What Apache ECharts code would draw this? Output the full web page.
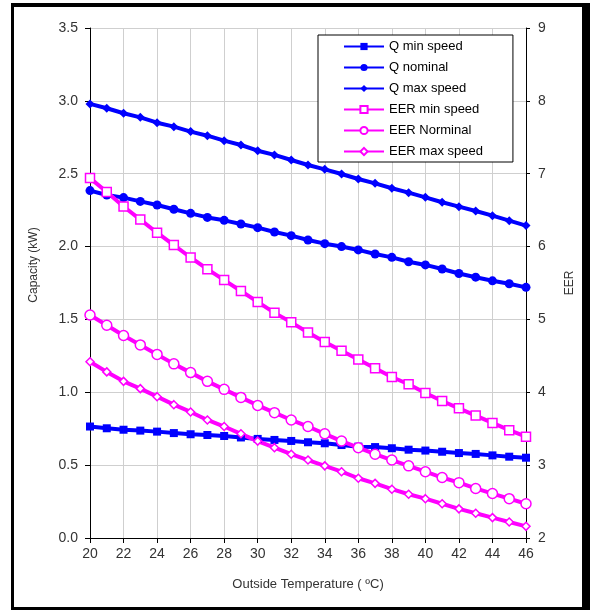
<!DOCTYPE html>
<html>
<head>
<meta charset="utf-8">
<script src="https://cdn.jsdelivr.net/npm/echarts@6/dist/echarts.min.js"></script>
<style>
    body { margin: 0; background: #fff; }
    #wrap { position: relative; width: 590px; height: 610px; }
    #chart { width: 590px; height: 610px; }
    #frame {
        position: absolute; left: 11px; top: 3px; width: 579px; height: 607px;
        box-sizing: border-box; pointer-events: none;
        border-left: 3px solid #000; border-top: 4px solid #000;
        border-right: 8px solid #000; border-bottom: 3px solid #000;
    }
</style>
</head>
<body>
<div id="wrap">
    <div id="chart"></div>
    <div id="frame"></div>
</div>
<script>
// outside temperature (°C)
var temps = [20, 21, 22, 23, 24, 25, 26, 27, 28, 29, 30, 31, 32, 33, 34, 35, 36, 37, 38, 39, 40, 41, 42, 43, 44, 45, 46];

// capacity (kW), left axis
var qMin = [0.765, 0.753, 0.743, 0.737, 0.730, 0.720, 0.712, 0.707, 0.700, 0.690, 0.680, 0.673, 0.666, 0.657, 0.650, 0.638, 0.627, 0.624, 0.616, 0.606, 0.600, 0.592, 0.583, 0.577, 0.567, 0.558, 0.551];
var qNom = [2.384, 2.354, 2.336, 2.310, 2.285, 2.256, 2.228, 2.200, 2.180, 2.155, 2.130, 2.100, 2.075, 2.045, 2.020, 2.000, 1.977, 1.949, 1.926, 1.896, 1.874, 1.846, 1.815, 1.790, 1.765, 1.745, 1.720];
var qMax = [2.979, 2.949, 2.915, 2.887, 2.850, 2.823, 2.789, 2.761, 2.727, 2.697, 2.658, 2.629, 2.594, 2.560, 2.530, 2.498, 2.464, 2.434, 2.400, 2.370, 2.338, 2.304, 2.274, 2.244, 2.212, 2.178, 2.144];

// EER, right axis
var eerMin = [6.94, 6.75, 6.55, 6.37, 6.19, 6.02, 5.85, 5.69, 5.54, 5.39, 5.24, 5.09, 4.96, 4.82, 4.69, 4.57, 4.45, 4.33, 4.21, 4.11, 3.99, 3.88, 3.78, 3.68, 3.58, 3.48, 3.39];
var eerNom = [5.06, 4.92, 4.78, 4.65, 4.52, 4.39, 4.27, 4.15, 4.04, 3.93, 3.82, 3.72, 3.62, 3.53, 3.43, 3.33, 3.24, 3.15, 3.07, 2.99, 2.91, 2.83, 2.76, 2.68, 2.61, 2.54, 2.47];
var eerMax = [4.42, 4.28, 4.15, 4.05, 3.94, 3.83, 3.73, 3.62, 3.53, 3.43, 3.33, 3.24, 3.15, 3.07, 2.99, 2.91, 2.82, 2.75, 2.67, 2.60, 2.54, 2.47, 2.40, 2.34, 2.28, 2.22, 2.16];

var FONT = "'Liberation Sans', Arial, sans-serif";
var BLUE = '#0000ff';
var PINK = '#ff00ff';

function pairs(vals) {
    return temps.map(function (t, i) { return [t, vals[i]]; });
}

function qSeries(name, vals, symbol, size) {
    return {
        name: name, type: 'line', yAxisIndex: 0, data: pairs(vals),
        symbol: symbol, symbolSize: size, showAllSymbol: true,
        lineStyle: { color: BLUE, width: 4 },
        itemStyle: { color: BLUE },
        emphasis: { disabled: true }
    };
}

function eerSeries(name, vals, symbol, size) {
    return {
        name: name, type: 'line', yAxisIndex: 1, data: pairs(vals),
        symbol: symbol, symbolSize: size, showAllSymbol: true,
        lineStyle: { color: PINK, width: 4 },
        itemStyle: { color: '#fff', borderColor: PINK, borderWidth: 1.5 },
        emphasis: { disabled: true }
    };
}

var myChart = echarts.init(document.getElementById('chart'));
myChart.setOption({
    animation: false,
    backgroundColor: '#fff',
    textStyle: { fontFamily: FONT },
    grid: { left: 90, right: 64, top: 28, bottom: 72 },
    legend: {
        orient: 'vertical',
        left: 318,
        top: 35,
        itemWidth: 40,
        itemHeight: 9,
        itemGap: 8,
        padding: [5, 30, 4, 25],
        backgroundColor: '#fff',
        borderColor: '#000',
        borderWidth: 1,
        textStyle: { fontFamily: FONT, fontSize: 13, color: '#000' },
        data: ['Q min speed', 'Q nominal', 'Q max speed', 'EER min speed', 'EER Norminal', 'EER max speed']
    },
    xAxis: {
        type: 'value',
        min: 20,
        max: 46,
        interval: 2,
        name: 'Outside Temperature ( ºC)',
        nameLocation: 'middle',
        nameGap: 40,
        nameTextStyle: { fontFamily: FONT, fontSize: 13, color: '#333' },
        axisLine: { onZero: false, lineStyle: { color: '#000', width: 1 } },
        axisTick: { show: true, length: 5, lineStyle: { color: '#000' } },
        axisLabel: { fontFamily: FONT, fontSize: 14, color: '#333', margin: 9 },
        splitLine: { show: true, lineStyle: { color: '#cfcfcf', width: 1 } }
    },
    yAxis: [
        {
            type: 'value',
            min: 0,
            max: 3.5,
            interval: 0.5,
            name: 'Capacity (kW)',
            nameLocation: 'middle',
            nameGap: 50,
            nameTextStyle: { fontFamily: FONT, fontSize: 12, color: '#333', padding: [0, 0, 0, 36] },
            axisLine: { show: true, lineStyle: { color: '#000', width: 1 } },
            axisTick: { show: true, length: 5, lineStyle: { color: '#000' } },
            axisLabel: {
                fontFamily: FONT, fontSize: 14, color: '#333', margin: 12,
                formatter: function (v) { return v.toFixed(1); }
            },
            splitLine: { show: true, lineStyle: { color: '#cfcfcf', width: 1 } }
        },
        {
            type: 'value',
            min: 2,
            max: 9,
            interval: 1,
            name: 'EER',
            nameLocation: 'middle',
            nameGap: 38,
            nameTextStyle: { fontFamily: FONT, fontSize: 12, color: '#333' },
            axisLine: { show: true, lineStyle: { color: '#000', width: 1 } },
            axisTick: { show: true, length: 4, lineStyle: { color: '#000' } },
            axisLabel: { fontFamily: FONT, fontSize: 14, color: '#333', margin: 12 },
            splitLine: { show: false }
        }
    ],
    series: [
        qSeries('Q min speed', qMin, 'rect', 8),
        qSeries('Q nominal', qNom, 'circle', 9),
        qSeries('Q max speed', qMax, 'diamond', 9),
        eerSeries('EER min speed', eerMin, 'rect', 9),
        eerSeries('EER Norminal', eerNom, 'circle', 10),
        eerSeries('EER max speed', eerMax, 'diamond', 8)
    ]
});
window.addEventListener('resize', function () {
    myChart.resize();
});
</script>
</body>
</html>
